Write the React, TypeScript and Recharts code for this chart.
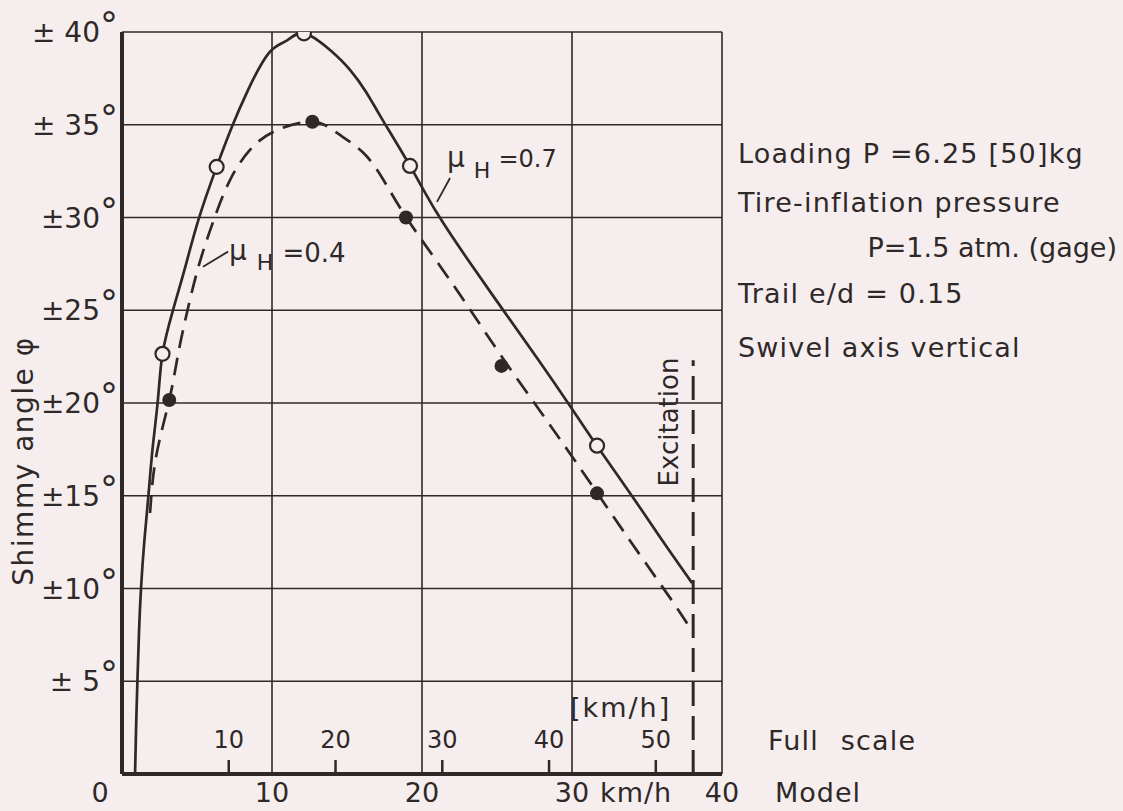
import {
  ComposedChart,
  Line,
  Scatter,
  XAxis,
  YAxis,
  CartesianGrid,
  ReferenceLine,
} from "recharts";

const INK = "#2f2828";
const PAPER = "#f6eeee";
const FONT = "'DejaVu Sans', sans-serif";

// model speed [km/h] vs shimmy angle [deg]
// mu_H = 0.7 (solid)
const solidSpeed = [0.87, 0.94, 1.03, 1.13, 1.27, 1.49, 1.77, 2.05, 2.4, 2.7, 3.4, 4.27, 5.13, 6.31, 7.33, 8.4, 9.8, 10.98, 12.13, 13.87, 15.2, 16.27, 17.27, 19.2, 21.0, 23.2, 25.4, 27.67, 29.87, 31.67, 34.0, 36.0, 38.0];
const solidAngle = [0, 2.53, 5.07, 7.55, 10.03, 12.56, 15.09, 17.63, 20.22, 22.65, 25.01, 27.49, 29.97, 32.73, 34.89, 36.87, 38.87, 39.53, 39.93, 39.03, 37.96, 36.77, 35.4, 32.78, 30.24, 27.56, 25.02, 22.43, 19.84, 17.68, 14.99, 12.61, 10.3];

// mu_H = 0.4 (dashed)
const dashedSpeed = [1.87, 2.27, 3.15, 3.73, 4.37, 5.13, 6.07, 7.2, 8.53, 10.2, 12.69, 14.33, 16.07, 17.47, 18.93, 21.2, 23.4, 25.47, 27.87, 30.07, 32.27, 34.53, 36.73, 37.87];
const dashedAngle = [14.07, 17.09, 20.16, 22.59, 25.01, 27.44, 29.76, 32.02, 33.64, 34.66, 35.16, 34.56, 33.5, 31.97, 30.03, 27.39, 24.8, 22.32, 19.57, 17.04, 14.45, 11.81, 9.27, 7.87];

// measured points
const openSpeed = [2.7, 6.31, 12.13, 19.2, 31.67];
const openAngle = [22.65, 32.73, 39.93, 32.78, 17.7];
const filledSpeed = [3.15, 12.69, 18.93, 25.3, 31.67];
const filledAngle = [20.16, 35.16, 30.0, 22.0, 15.13];

const modelTicks = [0, 10, 20, 30, 40];
const fullScaleTicks = [10, 20, 30, 40, 50];
const angleTicks = [5, 10, 15, 20, 25, 30, 35, 40];
const FULL_SCALE_MAX = 56.2;
// excitation limit, full-scale km/h, up to this angle
const excitationSpeed = [53.5, 53.5];
const excitationAngle = [0, 22.3];

const zip = (xs: number[], ys: number[]) => xs.map((x, i) => ({ x, y: ys[i] }));

const solidData = zip(solidSpeed, solidAngle);
const dashedData = zip(dashedSpeed, dashedAngle);
const openData = zip(openSpeed, openAngle);
const filledData = zip(filledSpeed, filledAngle);
const excitationData = zip(excitationSpeed, excitationAngle);

const ModelTick = (props: any) => {
  const { x, y, payload } = props;
  const v = payload.value;
  const suffix = v === 30 ? "km/h" : v === 40 ? "Model" : null;
  return (
    <g fill={INK} fontSize={27}>
      <text x={v === 0 ? x - 22 : x} y={y} dy={20} textAnchor="middle">
        {v}
      </text>
      {suffix && (
        <text x={x + (v === 30 ? 28 : 53)} y={y} dy={20} textAnchor="start" letterSpacing={1}>
          {suffix}
        </text>
      )}
    </g>
  );
};

// full-scale labels sit inside the plot, above short upward ticks
const FullScaleTick = (props: any) => {
  const { x, y, payload } = props;
  return (
    <text x={x} y={y} textAnchor="middle" fill={INK} fontSize={24}>
      {payload.value}
    </text>
  );
};

const AngleTick = (props: any) => {
  const { x, y, payload } = props;
  const v = payload.value;
  return (
    <text x={x} y={y} dy={10} textAnchor="end" fill={INK} fontSize={28}>
      {v < 10 || v > 30 ? "± " : "±"}
      {v}
      <tspan dy={-5} fontSize={36}>
        °
      </tspan>
    </text>
  );
};

const OpenDot = (p: any) => (
  <circle cx={p.cx} cy={p.cy} r={7} fill={PAPER} stroke={INK} strokeWidth={2.2} />
);
const FilledDot = (p: any) => <circle cx={p.cx} cy={p.cy} r={7} fill={INK} />;

export default function App() {
  return (
    <div
      style={{
        position: "absolute",
        left: 0,
        top: 0,
        width: 1123,
        height: 811,
        background: PAPER,
        fontFamily: FONT,
      }}
    >
      <ComposedChart
        width={1123}
        height={811}
        margin={{ top: 32, right: 401, bottom: 0, left: 0 }}
      >
        <CartesianGrid stroke={INK} strokeWidth={1.6} />
        <XAxis
          dataKey="x"
          type="number"
          domain={[0, 40]}
          ticks={modelTicks}
          allowDataOverflow
          height={37}
          tickSize={0}
          tickMargin={8}
          tickLine={false}
          axisLine={{ stroke: INK, strokeWidth: 4 }}
          tick={<ModelTick />}
        />
        <XAxis
          xAxisId="full"
          dataKey="x"
          type="number"
          domain={[0, FULL_SCALE_MAX]}
          ticks={fullScaleTicks}
          allowDataOverflow
          mirror
          height={30}
          axisLine={false}
          tickSize={14}
          tickMargin={12}
          tickLine={{ stroke: INK, strokeWidth: 2.5 }}
          tick={<FullScaleTick />}
        />
        <YAxis
          dataKey="y"
          type="number"
          domain={[0, 40]}
          ticks={angleTicks}
          allowDataOverflow
          width={122}
          tickSize={0}
          tickMargin={4}
          tickLine={false}
          axisLine={{ stroke: INK, strokeWidth: 4 }}
          tick={<AngleTick />}
        />
        <ReferenceLine
          segment={[
            { x: 21.87, y: 32.13 },
            { x: 21.0, y: 30.84 },
          ]}
          stroke={INK}
          strokeWidth={1.8}
        />
        <ReferenceLine
          segment={[
            { x: 7.07, y: 28.16 },
            { x: 5.4, y: 27.35 },
          ]}
          stroke={INK}
          strokeWidth={1.8}
        />
        <Line
          xAxisId="full"
          data={excitationData}
          dataKey="y"
          type="linear"
          stroke={INK}
          strokeWidth={3}
          strokeDasharray="24 10"
          dot={false}
          activeDot={false}
          isAnimationActive={false}
        />
        <Line
          data={solidData}
          dataKey="y"
          type="natural"
          stroke={INK}
          strokeWidth={2.7}
          dot={false}
          activeDot={false}
          isAnimationActive={false}
        />
        <Line
          data={dashedData}
          dataKey="y"
          type="natural"
          stroke={INK}
          strokeWidth={2.7}
          strokeDasharray="18 10"
          dot={false}
          activeDot={false}
          isAnimationActive={false}
        />
        <Scatter data={openData} dataKey="y" shape={OpenDot} isAnimationActive={false} />
        <Scatter data={filledData} dataKey="y" shape={FilledDot} isAnimationActive={false} />

        <text
          transform="translate(33,461) rotate(-90)"
          textAnchor="middle"
          fontSize={28}
          letterSpacing={1.5}
          fill={INK}
        >
          Shimmy angle φ
        </text>
        <text
          transform="translate(678,422) rotate(-90)"
          textAnchor="middle"
          fontSize={26}
          fill={INK}
        >
          Excitation
        </text>
        <text x={570} y={717} fontSize={27} letterSpacing={2} fill={INK}>
          [km/h]
        </text>
        <text x={447} y={167} fontSize={28} fill={INK}>
          μ
          <tspan fontSize={22} dx={9} dy={11}>
            H
          </tspan>
          <tspan fontSize={24} dx={8} dy={-11}>
            =0.7
          </tspan>
        </text>
        <text x={229} y={260} fontSize={28} fill={INK}>
          μ
          <tspan fontSize={22} dx={10} dy={10}>
            H
          </tspan>
          <tspan fontSize={26} dx={9} dy={-8}>
            =0.4
          </tspan>
        </text>

        <g fill={INK} fontSize={27} letterSpacing={1.2}>
          <text x={738} y={163}>Loading P =6.25 [50]kg</text>
          <text x={738} y={212}>Tire-inflation pressure</text>
          <text x={1117} y={257} textAnchor="end" letterSpacing={0}>
            P=1.5 atm. (gage)
          </text>
          <text x={738} y={303}>Trail e/d = 0.15</text>
          <text x={738} y={357}>Swivel axis vertical</text>
          <text x={768} y={750} wordSpacing={12}>
            Full scale
          </text>
        </g>
      </ComposedChart>
    </div>
  );
}
